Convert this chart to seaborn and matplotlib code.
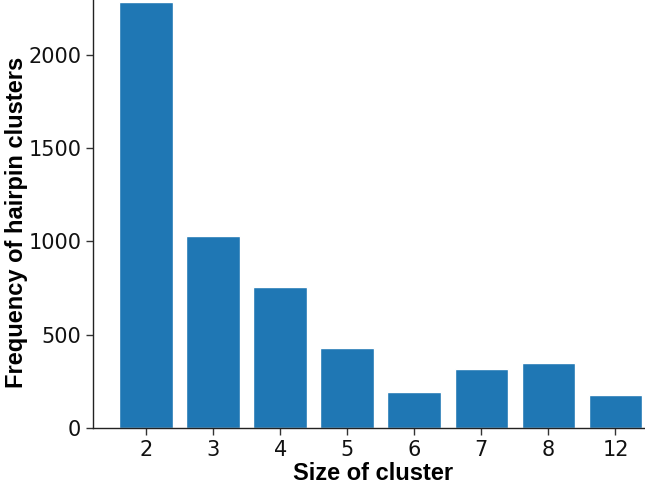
import pandas as pd
import matplotlib
matplotlib.use("Agg")
import matplotlib.pyplot as plt
import seaborn as sns

# datos
cluster_size = ["2", "3", "4", "5", "6", "7", "8", "12"]
frequency = [2280, 1028, 753, 429, 191, 318, 348, 175]

df = pd.DataFrame({"size": cluster_size, "freq": frequency})

sns.set_style("ticks")
plt.rcParams["font.family"] = ["DejaVu Sans"]

fig = plt.figure(figsize=(6.45, 4.92), dpi=100)
ax = fig.add_axes([93 / 645, 64 / 492, 1 - 93 / 645, 428 / 492])

sns.barplot(data=df, x="size", y="freq", order=cluster_size, color="#1f77b4",
            saturation=1, width=0.8, ax=ax)

ax.set_xlim(-0.79, 7.44)
ax.set_ylim(0, 2292)
ax.set_yticks([0, 500, 1000, 1500, 2000])
sns.despine(ax=ax)
for s in ["left", "bottom"]:
    ax.spines[s].set_linewidth(1.0)
    ax.spines[s].set_color("#222222")
ax.tick_params(axis="both", labelsize=15, length=5, width=1, color="#333333",
               labelcolor="#111111")

label_font = dict(family=["Liberation Sans", "DejaVu Sans"],
                  fontweight="bold", fontsize=17, color="black")
ax.set_xlabel("Size of cluster", **label_font)
ax.set_ylabel("Frequency of hairpin clusters", **label_font)
ax.xaxis.set_label_coords((373 - 93) / 552, -34 / 428)
ax.yaxis.set_label_coords((28 - 93) / 552, (428 - 222) / 428)

fig.savefig("out.png", dpi=100)
